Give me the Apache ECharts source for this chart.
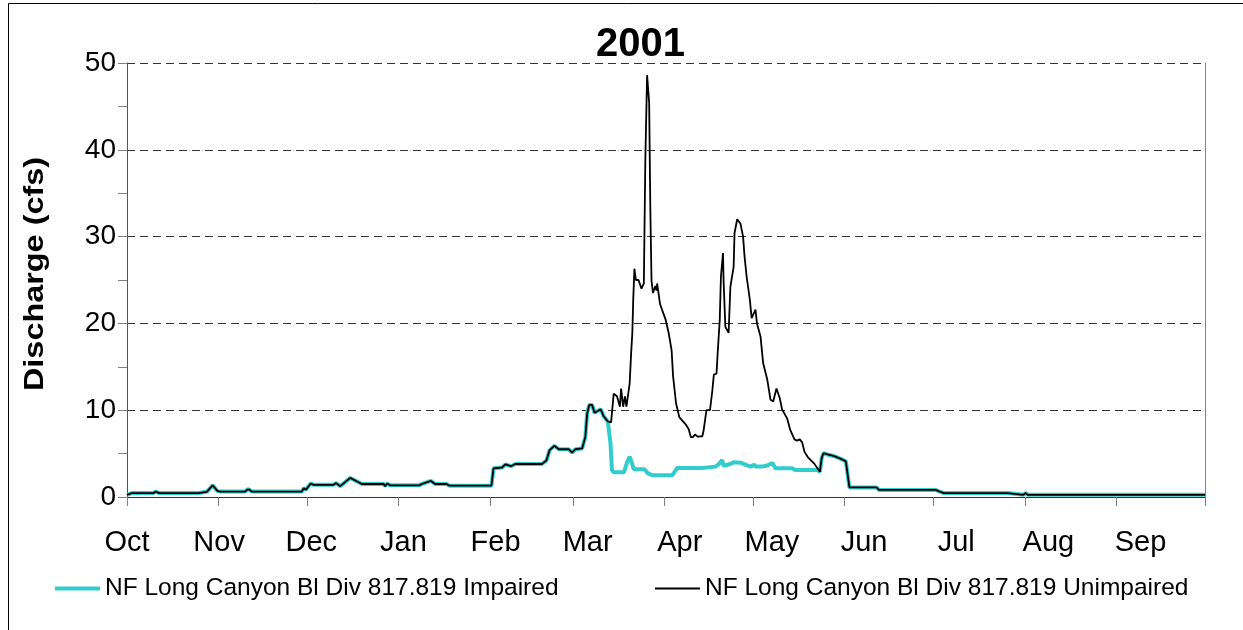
<!DOCTYPE html>
<html>
<head>
<meta charset="utf-8">
<script src="https://cdn.jsdelivr.net/npm/echarts@6/dist/echarts.min.js"></script>
<style>
  html, body { margin: 0; padding: 0; background: #fff; }
  #chart { width: 1243px; height: 630px; }
</style>
</head>
<body>
<div id="chart"></div>
<script>
// water year 2001: day 0 = 1 Oct 2000
var months = ['Oct', 'Nov', 'Dec', 'Jan', 'Feb', 'Mar', 'Apr', 'May', 'Jun', 'Jul', 'Aug', 'Sep'];
var monthStartDays = [0, 31, 61, 92, 123, 151, 182, 212, 243, 273, 304, 335, 365];
var yTicks = [0, 10, 20, 30, 40, 50];

// [day, cfs]; both series share these
var sharedEarly = [
  [0, 0.25], [1.6, 0.45], [8.9, 0.45], [9.8, 0.62], [10.9, 0.45], [24.2, 0.45], [24.7, 0.57],
  [27, 0.6], [29, 1.35], [30.6, 0.7], [31.5, 0.62], [40, 0.62], [40.7, 0.86], [41.4, 0.86],
  [42.2, 0.62], [59.2, 0.62], [59.8, 1.0], [60.6, 0.85], [62.2, 1.55], [63.2, 1.4], [69.9, 1.4],
  [70.8, 1.6], [72.2, 1.25], [75.6, 2.2], [78.4, 1.7], [79.5, 1.5], [86.9, 1.5], [87.4, 1.25],
  [88, 1.55], [89.1, 1.35], [99, 1.35], [99.8, 1.5], [102.9, 1.85], [104.3, 1.5], [108.2, 1.5],
  [109.2, 1.3], [123.4, 1.3], [124.1, 3.3], [127, 3.4], [128.1, 3.75], [130, 3.55], [131.5, 3.8],
  [140.5, 3.8], [142, 4.2], [143.1, 5.4], [144.7, 5.9], [146.2, 5.5], [149.6, 5.5], [150.7, 5.1],
  [151.8, 5.5], [154.1, 5.6], [155.2, 6.95], [155.8, 9.6], [156.5, 10.6], [157.5, 10.6],
  [158.3, 9.7], [158.9, 9.7], [160.4, 10.1], [161.4, 9.3], [162.8, 8.7]
];
var impairedMid = [
  [163.7, 6.2], [164.2, 3.1], [164.8, 2.85], [168.3, 2.85], [169.3, 4.0], [170.2, 4.65],
  [170.8, 4.5], [171.6, 3.2], [175.2, 3.2], [176.3, 2.75], [177.8, 2.5], [184.6, 2.5],
  [186.3, 3.35], [194.8, 3.35], [195.3, 3.5], [199.3, 3.5], [200.4, 3.8], [201.5, 4.25],
  [202, 3.6], [204.3, 3.8], [205.4, 4.0], [208, 3.95], [209.5, 3.7], [211.2, 3.5], [212.3, 3.7],
  [213, 3.5], [215, 3.5], [216.5, 3.6], [218.5, 3.9], [219.6, 3.3], [225.2, 3.3], [226.3, 3.1],
  [233.7, 3.1], [234.6, 2.9]
];
var unimpairedMid = [
  [163.9, 8.6], [164.4, 8.8], [164.8, 11.9], [165.3, 12.1], [165.9, 11.6], [166.9, 10.4],
  [167.3, 12.5], [168, 10.4], [168.6, 11.6], [169.1, 10.4], [170.2, 13.1], [170.7, 16.6],
  [171.1, 18.9], [171.4, 22.7], [171.8, 26.3], [172.3, 25.0], [173.2, 25.0], [174.2, 24.0],
  [175, 24.6], [175.5, 38.8], [176.1, 48.6], [176.4, 48.6], [176.8, 45.4], [177.2, 33.1],
  [177.6, 24.9], [178.1, 23.5], [178.9, 24.3], [179.3, 23.8], [179.5, 24.6], [180.5, 22.2],
  [182.4, 20.4], [183.4, 18.9], [184.4, 16.9], [184.9, 13.9], [185.9, 10.8], [187, 9.2],
  [189.3, 8.3], [190.2, 7.8], [190.9, 6.9], [191.6, 6.9], [192.3, 7.2], [193.3, 6.95],
  [194.8, 7.0], [195.2, 7.6], [196.2, 10.0], [197.4, 10.0], [198.2, 12.3], [198.7, 14.1],
  [199.6, 14.2], [200, 16.6], [200.7, 20.4], [201.1, 25.4], [201.8, 28.1], [202, 24.9],
  [202.6, 19.6], [203.7, 18.9], [204.3, 24.2], [205.4, 26.5], [205.7, 30.4], [206.6, 32.0],
  [207.7, 31.5], [208.6, 30.0], [209.1, 27.7], [209.8, 25.4], [210.9, 22.7], [211.5, 20.6],
  [212.3, 21.2], [212.8, 21.6], [213.3, 20.0], [214.5, 18.5], [215.4, 15.4], [216.8, 13.5],
  [217.9, 11.2], [218.8, 11.0], [219.9, 12.5], [221, 11.4], [221.8, 10.1], [223.5, 9.06],
  [224.6, 7.7], [226, 6.64], [226.9, 6.5], [227.8, 6.64], [228.6, 6.3], [229.4, 5.2],
  [230.5, 4.6], [232.6, 3.88], [234.6, 2.9]
];
var sharedLate = [
  [235.2, 4.45], [235.8, 5.05], [237.2, 4.9], [239.5, 4.7], [241.7, 4.4], [243.4, 4.1], [244, 4.0],
  [244.6, 1.1], [253.8, 1.1], [254.6, 0.82], [273.8, 0.82], [275, 0.65], [276.6, 0.45],
  [298.1, 0.45], [298.6, 0.25], [303.5, 0.25], [304.3, 0.45], [305, 0.25], [341.6, 0.25],
  [342.2, 0.05], [343, 0.25], [345, 0.25], [345.5, 0.08], [346.2, 0.25], [365, 0.25]
];

var impaired = sharedEarly.concat(impairedMid, sharedLate);
var unimpaired = sharedEarly.concat(unimpairedMid, sharedLate);

var FONT = 'Liberation Sans, Arial, sans-serif';

var myChart = echarts.init(document.getElementById('chart'));

var option = {
    animation: false,
    backgroundColor: '#fff',
    title: {
        text: '2001',
        left: 596,
        top: 25,
        padding: 0,
        textStyle: { color: '#000', fontFamily: FONT, fontWeight: 'bold', fontSize: 40 }
    },
    legend: [
        {
            data: ['NF Long Canyon Bl Div 817.819 Impaired'],
            left: 55, top: 576, padding: 0,
            icon: 'rect', itemWidth: 45, itemHeight: 4,
            textStyle: { color: '#000', fontFamily: FONT, fontSize: 24.5 }
        },
        {
            data: ['NF Long Canyon Bl Div 817.819 Unimpaired'],
            left: 655, top: 576, padding: 0,
            icon: 'rect', itemWidth: 45, itemHeight: 2,
            textStyle: { color: '#000', fontFamily: FONT, fontSize: 24.5 }
        }
    ],
    grid: { left: 127, right: 38, top: 63, bottom: 133, containLabel: false },
    xAxis: [
        {
            type: 'value',
            min: 0,
            max: 365,
            axisLine: { show: true, lineStyle: { color: '#333', width: 1 } },
            axisTick: { show: true, length: 9, customValues: monthStartDays, lineStyle: { color: '#808080' } },
            axisLabel: { show: false },
            splitLine: { show: false }
        },
        {
            // evenly spaced month captions, as in the original
            type: 'value',
            position: 'bottom',
            min: 0,
            max: 11.7,
            interval: 1,
            axisLine: { show: false },
            axisTick: { show: false },
            splitLine: { show: false },
            axisLabel: {
                margin: 31,
                showMaxLabel: false,
                color: '#000', fontFamily: FONT, fontSize: 29,
                formatter: function (v) { return months[v] || ''; }
            }
        }
    ],
    yAxis: [
        {
            type: 'value',
            min: yTicks[0],
            max: yTicks[yTicks.length - 1],
            interval: 10,
            axisLine: { show: true, lineStyle: { color: '#555' } },
            axisTick: { show: true, length: 9, lineStyle: { color: '#808080' } },
            minorTick: { show: true, splitNumber: 2, length: 9, lineStyle: { color: '#808080' } },
            axisLabel: { margin: 11, color: '#000', fontFamily: FONT, fontSize: 28 },
            splitLine: { show: true, lineStyle: { color: '#333', type: [8, 5], width: 1 } }
        },
        {
            type: 'value',
            position: 'right',
            min: 0, max: 50,
            axisLine: { show: true, onZero: false, lineStyle: { color: '#808080' } },
            axisTick: { show: false },
            axisLabel: { show: false },
            splitLine: { show: false }
        }
    ],
    graphic: [
        {
            type: 'rect',
            shape: { x: 8.5, y: 3.5, width: 1400, height: 800 },
            style: { fill: 'none', stroke: '#000', lineWidth: 1 },
            silent: true
        },
        {
            // y axis title, a little taller than wide as in the original
            type: 'text',
            x: 36,
            y: 274,
            rotation: Math.PI / 2,
            scaleX: 1.2,
            style: {
                text: 'Discharge (cfs)',
                fill: '#000',
                fontFamily: FONT,
                fontWeight: 'bold',
                fontSize: 27,
                align: 'center',
                verticalAlign: 'middle'
            },
            silent: true
        }
    ],
    series: [
        {
            name: 'NF Long Canyon Bl Div 817.819 Impaired',
            type: 'line',
            data: impaired,
            symbol: 'none',
            lineStyle: { color: '#33CCCC', width: 4 },
            itemStyle: { color: '#33CCCC' },
            z: 2
        },
        {
            name: 'NF Long Canyon Bl Div 817.819 Unimpaired',
            type: 'line',
            data: unimpaired,
            symbol: 'none',
            lineStyle: { color: '#000', width: 1.8 },
            itemStyle: { color: '#000' },
            z: 3
        }
    ]
};
if (option && typeof option === "object") {
    myChart.setOption(option, true);
}
</script>
</body>
</html>
